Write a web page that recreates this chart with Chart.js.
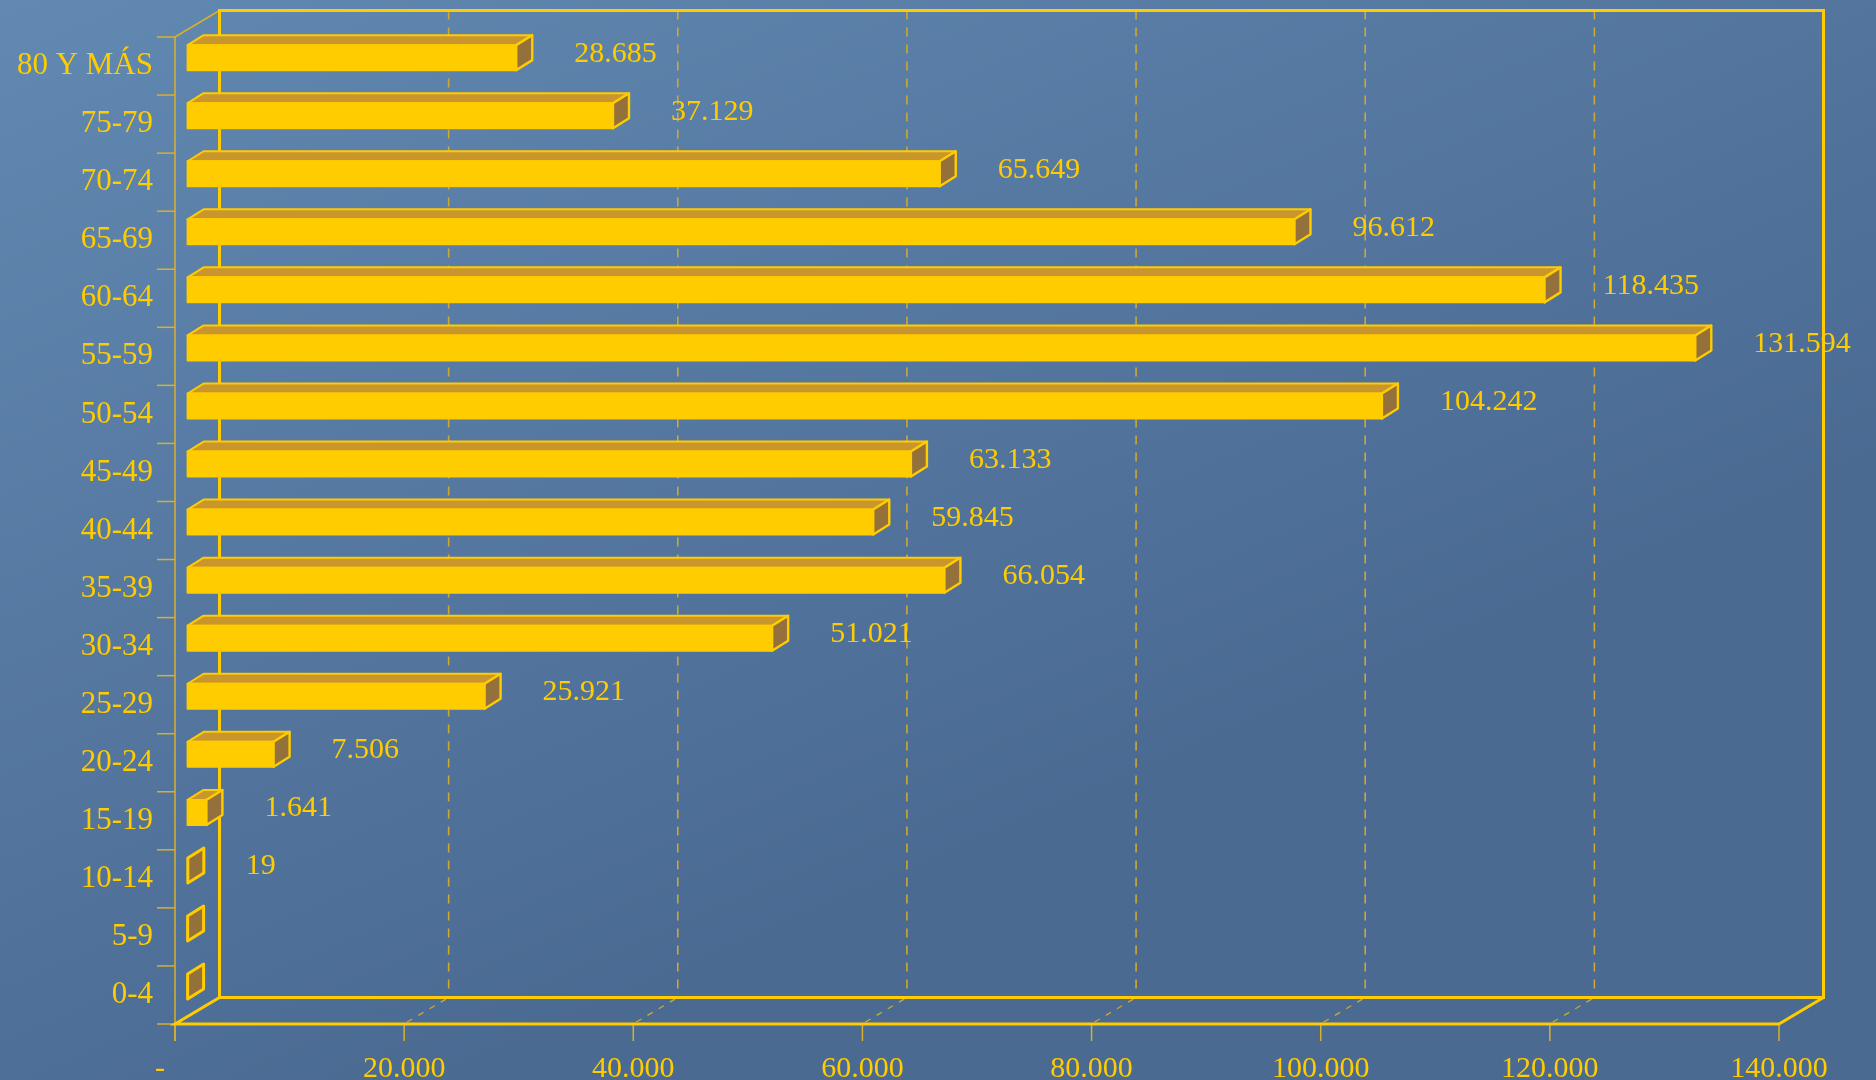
<!DOCTYPE html>
<html>
<head>
<meta charset="utf-8">
<script src="https://cdn.jsdelivr.net/npm/chart.js@4.4.1/dist/chart.umd.min.js"></script>
<style>
html,body{margin:0;padding:0;background:#557aa3;overflow:hidden}
canvas{display:block}
</style>
</head>
<body>
<canvas id="c" width="1876" height="1080"></canvas>
<script>
// ---- data ----
const categories = ['80 Y MÁS','75-79','70-74','65-69','60-64','55-59','50-54','45-49','40-44','35-39','30-34','25-29','20-24','15-19','10-14','5-9','0-4'];
const values = [28685,37129,65649,96612,118435,131594,104242,63133,59845,66054,51021,25921,7506,1641,19,0,0];
const xTicks = [0,20000,40000,60000,80000,100000,120000,140000];
const zeroLabel = '-';

// ---- style ----
const YEL = '#FFCC00';
const YEL_THIN = '#D8B02A';
const TOP_FACE = '#C9962E';
const END_FACE = '#94703A';
const WALL = {dx:44.5, dy:-26.5};
const BAR = {ox:12.6, oy:-8.4, dx:16, dy:-10};
const FONT = '"Liberation Serif", "Times New Roman", serif';

function fmt(v){ return String(v).replace(/\B(?=(\d{3})+(?!\d))/g,'.'); }

function seg(ctx,x1,y1,x2,y2){ ctx.beginPath(); ctx.moveTo(x1,y1); ctx.lineTo(x2,y2); ctx.stroke(); }
function poly(ctx,pts,fill,stroke,lw){
  ctx.beginPath(); ctx.moveTo(pts[0][0],pts[0][1]);
  for(let i=1;i<pts.length;i++) ctx.lineTo(pts[i][0],pts[i][1]);
  ctx.closePath();
  if(fill){ctx.fillStyle=fill; ctx.fill();}
  if(stroke){ctx.strokeStyle=stroke; ctx.lineWidth=lw; ctx.lineJoin='round'; ctx.stroke();}
}

const frame3d = {
  id:'frame3d',
  beforeDraw(chart){
    const {ctx,width,height}=chart;
    const g=ctx.createLinearGradient(0,0,width*0.25,height);
    g.addColorStop(0,'#6189B1');
    g.addColorStop(0.5,'#5679A2');
    g.addColorStop(1,'#4A6A92');
    ctx.save(); ctx.fillStyle=g; ctx.fillRect(0,0,width,height); ctx.restore();
  },
  beforeDatasetsDraw(chart){
    const {ctx, chartArea:a, scales:{x}} = chart;
    const L=a.left, R=a.right, T=a.top, Bt=a.bottom;
    ctx.save();
    ctx.lineCap='butt';
    // dashed gridlines on back wall
    ctx.strokeStyle='#CFA733'; ctx.lineWidth=1.6; ctx.setLineDash([9,8]);
    xTicks.forEach(v=>{ if(v<=x.min||v>=x.max) return; const px=x.getPixelForValue(v)+WALL.dx; seg(ctx,px,T+WALL.dy,px,Bt+WALL.dy); });
    // dashed diagonals on floor
    ctx.setLineDash([6,7]); ctx.lineWidth=1.3;
    xTicks.forEach(v=>{ if(v<=x.min||v>=x.max) return; const px=x.getPixelForValue(v); seg(ctx,px+3,Bt-2,px+WALL.dx,Bt+WALL.dy); });
    ctx.setLineDash([]);
    // thin lines: front left axis, top-left diagonal, ticks
    ctx.strokeStyle=YEL_THIN; ctx.lineWidth=1.5;
    seg(ctx,L,T,L,Bt+17);
    seg(ctx,L,T,L+WALL.dx,T+WALL.dy);
    const n=categories.length;
    for(let k=0;k<=n;k++){ const yy=T+k*(Bt-T)/n; seg(ctx,L-18,yy,L,yy); }
    xTicks.forEach(v=>{ const px=x.getPixelForValue(v); seg(ctx,px,Bt,px,Bt+17); });
    // thick frame lines
    ctx.strokeStyle=YEL; ctx.lineWidth=3; ctx.lineJoin='miter';
    ctx.beginPath();
    ctx.moveTo(L+WALL.dx,Bt+WALL.dy); ctx.lineTo(L+WALL.dx,T+WALL.dy); ctx.lineTo(R+WALL.dx,T+WALL.dy); ctx.lineTo(R+WALL.dx,Bt+WALL.dy); ctx.lineTo(L+WALL.dx,Bt+WALL.dy);
    ctx.stroke();
    ctx.beginPath();
    ctx.moveTo(L+WALL.dx,Bt+WALL.dy); ctx.lineTo(L,Bt); ctx.lineTo(R,Bt); ctx.lineTo(R+WALL.dx,Bt+WALL.dy);
    ctx.stroke();
    ctx.restore();
  },
  afterDatasetsDraw(chart){
    const {ctx} = chart;
    const meta=chart.getDatasetMeta(0);
    ctx.save();
    meta.data.forEach((el,i)=>{
      const xe=el.x, y=el.y, base=el.base, h=el.height;
      const l=base+BAR.ox, r=xe+BAR.ox, t=y+BAR.oy-h/2, b=y+BAR.oy+h/2;
      const dx=BAR.dx, dy=BAR.dy;
      if(r-l>0.5){
        poly(ctx,[[l,t],[r,t],[r+dx,t+dy],[l+dx,t+dy]],TOP_FACE,YEL,2);
        poly(ctx,[[l,t],[r,t],[r,b],[l,b]],YEL,YEL,2);
        poly(ctx,[[r,t],[r+dx,t+dy],[r+dx,b+dy],[r,b]],END_FACE,YEL,2.4);
      } else {
        poly(ctx,[[r,t],[r+dx,t+dy],[r+dx,b+dy],[r,b]],END_FACE,YEL,3);
      }
      const v=values[i];
      if(v>0){
        ctx.font='30px '+FONT; ctx.fillStyle=YEL; ctx.textAlign='left'; ctx.textBaseline='middle';
        ctx.fillText(fmt(v), r+dx+42, y+BAR.oy-4);
      }
    });
    ctx.restore();
  }
};

Chart.defaults.font.family = FONT;
Chart.defaults.font.size = 30;
Chart.defaults.color = YEL;

new Chart(document.getElementById('c'), {
  type:'bar',
  data:{
    labels:categories,
    datasets:[{data:values, backgroundColor:'rgba(0,0,0,0)', borderWidth:0, barThickness:25}]
  },
  options:{
    indexAxis:'y',
    responsive:false,
    devicePixelRatio:1,
    animation:false,
    events:[],
    layout:{padding:{top:37,right:97,left:0,bottom:0}},
    plugins:{legend:{display:false}, tooltip:{enabled:false}, title:{display:false}},
    scales:{
      x:{
        type:'linear', min:0, max:140000,
        afterBuildTicks(s){ s.ticks = xTicks.map(v=>({value:v})); },
        afterFit(s){ s.height=56; },
        grid:{display:false}, border:{display:false},
        ticks:{padding:19, color:YEL, font:{size:30}, maxRotation:0, autoSkip:false,
          callback:(v)=> v===0 ? zeroLabel+'    ' : fmt(v)}
      },
      y:{
        type:'category',
        afterFit(s){ s.width=175; },
        grid:{display:false}, border:{display:false},
        ticks:{padding:14, labelOffset:0, color:YEL, font:{size:31}, autoSkip:false}
      }
    }
  },
  plugins:[frame3d]
});
</script>
</body>
</html>
